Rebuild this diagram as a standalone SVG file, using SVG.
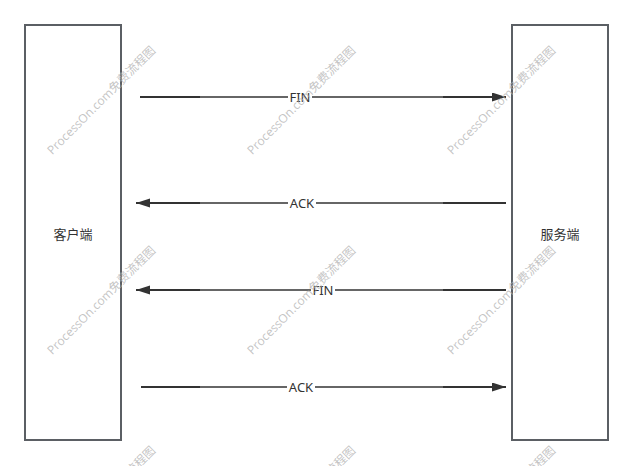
<svg xmlns="http://www.w3.org/2000/svg" width="633" height="466" viewBox="0 0 633 466">
<defs>
<style>
.node{fill:#fff;stroke:#5b5f64;stroke-width:2}
.nt{font-family:"Noto Sans","Noto Sans CJK SC",sans-serif;font-size:13px;fill:#333;text-anchor:middle;dominant-baseline:central}
.ln{fill:none;stroke:url(#lg);stroke-width:2}
.lb{fill:#fff}
.lt{font-family:"Noto Sans","Noto Sans CJK SC",sans-serif;font-size:13px;fill:#333;text-anchor:middle;dominant-baseline:central}
.wm{font-family:"Open Sans","Noto Sans CJK SC",sans-serif;font-size:12px;fill:#b0b0b0;fill-opacity:0.75;text-anchor:middle;dominant-baseline:central}
</style>
<linearGradient id="lg" gradientUnits="userSpaceOnUse" x1="0" y1="0" x2="633" y2="0">
<stop offset="0.316" stop-color="#333"/>
<stop offset="0.316" stop-color="#666"/>
<stop offset="0.70" stop-color="#666"/>
<stop offset="0.70" stop-color="#333"/>
</linearGradient>
<marker id="ah" markerUnits="userSpaceOnUse" markerWidth="14" markerHeight="10" refX="14" refY="4.5" orient="auto">
<path d="M0,0 L14,4.5 L0,9 z" fill="#333"/>
</marker>
</defs>
<rect width="633" height="466" fill="#fff"/>
<g id="client">
<rect class="node" x="25" y="25" width="96" height="415"/>
<text class="nt" x="73" y="234">客户端</text>
</g>
<g id="server">
<rect class="node" x="512" y="25" width="96" height="415"/>
<text class="nt" x="560" y="234">服务端</text>
</g>
<g id="connectors">
<path class="ln" d="M140,97 H506" marker-end="url(#ah)"/>
<rect class="lb" x="288" y="89" width="24" height="16"/>
<text class="lt" x="300" y="97">FIN</text>
<path class="ln" d="M506,203 H136" marker-end="url(#ah)"/>
<rect class="lb" x="288" y="195" width="28" height="16"/>
<text class="lt" x="302" y="203">ACK</text>
<path class="ln" d="M506,290 H136" marker-end="url(#ah)"/>
<rect class="lb" x="311" y="282" width="24" height="16"/>
<text class="lt" x="323" y="290">FIN</text>
<path class="ln" d="M141,387 H506" marker-end="url(#ah)"/>
<rect class="lb" x="287" y="379" width="28" height="16"/>
<text class="lt" x="301" y="387">ACK</text>
</g>
<g id="watermarks">
<text class="wm" transform="translate(101,100) rotate(-45)">ProcessOn.com免费流程图</text>
<text class="wm" transform="translate(301,100) rotate(-45)">ProcessOn.com免费流程图</text>
<text class="wm" transform="translate(501,100) rotate(-45)">ProcessOn.com免费流程图</text>
<text class="wm" transform="translate(101,300) rotate(-45)">ProcessOn.com免费流程图</text>
<text class="wm" transform="translate(301,300) rotate(-45)">ProcessOn.com免费流程图</text>
<text class="wm" transform="translate(501,300) rotate(-45)">ProcessOn.com免费流程图</text>
<text class="wm" transform="translate(101,500) rotate(-45)">ProcessOn.com免费流程图</text>
<text class="wm" transform="translate(301,500) rotate(-45)">ProcessOn.com免费流程图</text>
<text class="wm" transform="translate(501,500) rotate(-45)">ProcessOn.com免费流程图</text>
</g>
</svg>
